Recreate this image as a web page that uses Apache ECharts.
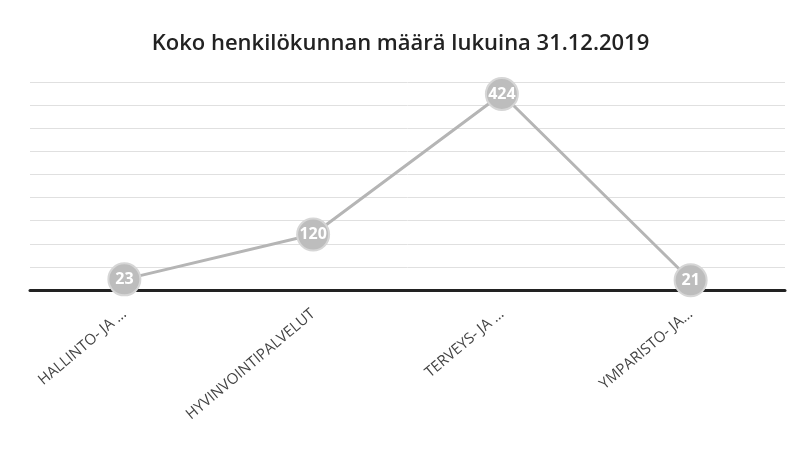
<!DOCTYPE html>
<html>
<head>
<meta charset="utf-8">
<script src="https://cdn.jsdelivr.net/npm/echarts@6/dist/echarts.min.js"></script>
<style>
  html, body { margin: 0; padding: 0; background: #fff; }
  #chart { width: 801px; height: 461px; }
</style>
</head>
<body>
<div id="chart"></div>
<script>
// values
const categories = ['HALLINTO- JA …', 'HYVINVOINTIPALVELUT', 'TERVEYS- JA …', 'YMPARISTO- JA…']
const staffCounts = [23, 120, 424, 21]

const chart = echarts.init(document.getElementById('chart'))
chart.setOption({
  title: {
    text: 'Koko henkilökunnan määrä lukuina 31.12.2019',
    left: 'center',
    top: 28,
    textStyle: {
      fontFamily: 'Open Sans',
      fontSize: 22,
      fontWeight: 600,
      color: '#222'
    }
  },
  grid: {
    left: 30,
    right: 16,
    top: 82,
    bottom: 171
  },
  xAxis: {
    type: 'category',
    data: categories,
    axisLine: { lineStyle: { color: '#222', width: 3 } },
    axisTick: { show: false },
    axisLabel: {
      rotate: 40,
      interval: 0,
      margin: 22,
      fontFamily: 'Open Sans',
      fontSize: 15,
      color: '#444'
    }
  },
  yAxis: {
    type: 'value',
    min: 0,
    max: 450,
    interval: 50,
    axisLabel: { show: false },
    axisLine: { show: false },
    axisTick: { show: false },
    splitLine: { lineStyle: { color: '#e0e0e0', width: 1 } }
  },
  series: [{
    type: 'line',
    data: staffCounts,
    symbol: 'circle',
    symbolSize: 32,
    lineStyle: { color: '#b5b5b5', width: 3 },
    itemStyle: { color: '#bdbdbd', borderColor: '#d6d6d6', borderWidth: 2 },
    label: {
      show: true,
      position: 'inside',
      color: '#fff',
      fontFamily: 'Open Sans',
      fontWeight: 'bold',
      fontSize: 16
    },
    z: 3
  }]
})
</script>
</body>
</html>
